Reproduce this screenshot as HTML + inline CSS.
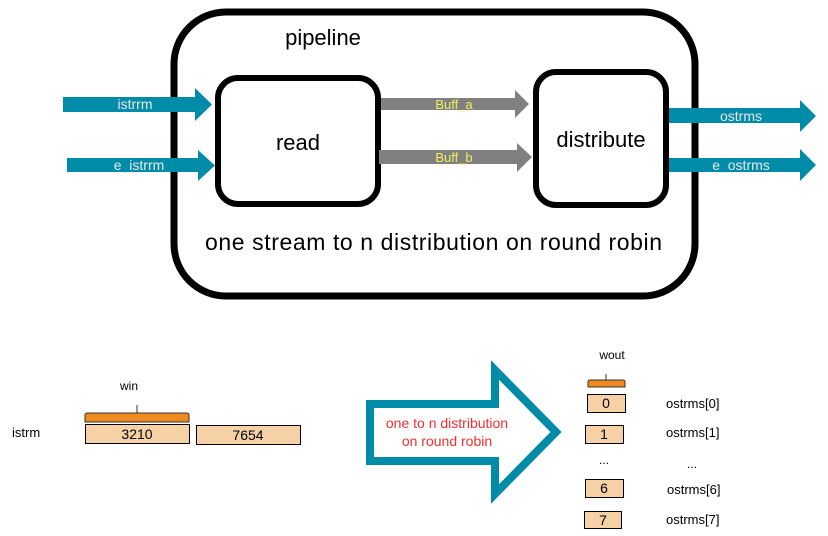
<!DOCTYPE html>
<html><head><style>
body{margin:0;background:#fff;width:828px;height:536px;overflow:hidden}
svg{display:block;font-family:"Liberation Sans",Arial,sans-serif}
</style></head><body>
<svg width="828" height="536" viewBox="0 0 828 536">
<rect x="174" y="12" width="521" height="284" rx="52" fill="#fff" stroke="#000" stroke-width="7"/>
<text x="323" y="45" font-size="22" text-anchor="middle">pipeline</text>
<polygon points="63,97 195,97 195,88 212,104.5 195,121 195,112 63,112" fill="#008ba8"/>
<text x="135" y="109" font-size="14" fill="#e8e8e8" text-anchor="middle">istrrm</text>
<polygon points="67,158 198,158 198,150 215,165.5 198,181 198,172 67,172" fill="#008ba8"/>
<text x="139" y="170" font-size="14" fill="#e8e8e8" text-anchor="middle">e_istrrm</text>
<rect x="218" y="78" width="160" height="126" rx="20" fill="#fff" stroke="#000" stroke-width="6"/>
<text x="298" y="150" font-size="22" text-anchor="middle">read</text>
<rect x="536" y="72" width="130" height="133" rx="20" fill="#fff" stroke="#000" stroke-width="6"/>
<text x="601" y="147" font-size="22" text-anchor="middle">distribute</text>
<polygon points="381,98 515,98 515,90 529,104 515,118 515,110 381,110" fill="#808080"/>
<text x="454" y="109" font-size="13" fill="#f0f060" text-anchor="middle">Buff_a</text>
<polygon points="379,150 517,150 517,143 532,157 517,172 517,164 379,164" fill="#808080"/>
<text x="454" y="162" font-size="13" fill="#f0f060" text-anchor="middle">Buff_b</text>
<polygon points="669,108 800,108 800,100 816,116 800,132 800,123 669,123" fill="#008ba8"/>
<text x="741" y="121" font-size="14" fill="#e8e8e8" text-anchor="middle">ostrms</text>
<polygon points="669,158 800,158 800,149 816,165 800,181 800,172 669,172" fill="#008ba8"/>
<text x="741" y="170" font-size="14" fill="#e8e8e8" text-anchor="middle">e_ostrms</text>
<text x="205" y="250" font-size="23" textLength="457" lengthAdjust="spacing">one stream to n  distribution on round robin</text>
<text x="129" y="390" font-size="12" text-anchor="middle">win</text>
<path d="M85,422 L85,415 Q85,413 88,413 L186,413 Q189,413 189,415 L189,422 Z" fill="#ee8a1e" stroke="#333" stroke-width="1"/>
<line x1="137" y1="405" x2="137" y2="413" stroke="#333"/>
<text x="12" y="437" font-size="13">istrm</text>
<rect x="85.5" y="424.5" width="104" height="19" fill="#f7d1a6" stroke="#000"/>
<text x="137" y="439" font-size="14" text-anchor="middle">3210</text>
<rect x="196.5" y="425.5" width="104" height="19" fill="#f7d1a6" stroke="#000"/>
<text x="248" y="440" font-size="14" text-anchor="middle">7654</text>
<polygon points="370,404 495,404 495,370 556,432 495,494 495,461 370,461" fill="#fff" stroke="#008ba8" stroke-width="8"/>
<text x="447" y="428" font-size="14" fill="#f03030" text-anchor="middle">one to n distribution</text>
<text x="447" y="446" font-size="14" fill="#f03030" text-anchor="middle">on round robin</text>
<text x="612" y="359" font-size="12" text-anchor="middle">wout</text>
<path d="M588,387 L588,382 Q588,380 590,380 L623,380 Q625,380 625,382 L625,387 Z" fill="#ee8a1e" stroke="#333" stroke-width="1"/>
<line x1="606" y1="374" x2="606" y2="380" stroke="#333"/>
<rect x="587.5" y="394.5" width="38" height="18" fill="#f7d1a6" stroke="#000"/>
<text x="606" y="408" font-size="14" text-anchor="middle">0</text>
<rect x="585.5" y="425.5" width="38" height="18" fill="#f7d1a6" stroke="#000"/>
<text x="604" y="439" font-size="14" text-anchor="middle">1</text>
<text x="604" y="464" font-size="12" text-anchor="middle">...</text>
<rect x="585.5" y="479.5" width="38" height="18" fill="#f7d1a6" stroke="#000"/>
<text x="604" y="493" font-size="14" text-anchor="middle">6</text>
<rect x="584.5" y="511.5" width="37" height="17" fill="#f7d1a6" stroke="#000"/>
<text x="603" y="525" font-size="14" text-anchor="middle">7</text>
<text x="666" y="408" font-size="13">ostrms[0]</text>
<text x="666" y="437" font-size="13">ostrms[1]</text>
<text x="692" y="468" font-size="12" text-anchor="middle">...</text>
<text x="667" y="494" font-size="13">ostrms[6]</text>
<text x="666" y="524" font-size="13">ostrms[7]</text>
</svg>
</body></html>
